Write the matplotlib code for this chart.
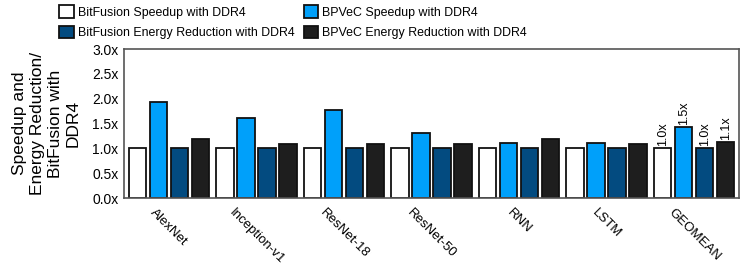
import numpy as np
import matplotlib.pyplot as plt

plt.rcParams['font.family'] = ['Liberation Sans', 'DejaVu Sans']

# === data ===
workloads = ['AlexNet', 'Inception-v1', 'ResNet-18', 'ResNet-50', 'RNN', 'LSTM', 'GEOMEAN']
bitfusion_speedup = [1.0, 1.0, 1.0, 1.0, 1.0, 1.0, 1.0]
bpvec_speedup = [1.94, 1.61, 1.77, 1.31, 1.11, 1.11, 1.44]
bitfusion_energy = [1.0, 1.0, 1.0, 1.0, 1.0, 1.0, 1.0]
bpvec_energy = [1.19, 1.09, 1.09, 1.09, 1.19, 1.09, 1.13]
geomean_labels = ['1.0x', '1.5x', '1.0x', '1.1x']

series = [
    (bitfusion_speedup, 'BitFusion Speedup with DDR4', '#ffffff'),
    (bitfusion_energy, 'BitFusion Energy Reduction with DDR4', '#034b80'),
    (bpvec_speedup, 'BPVeC Speedup with DDR4', '#00a0fa'),
    (bpvec_energy, 'BPVeC Energy Reduction with DDR4', '#1e1e1e'),
]
# drawing order within a group: white, light blue, dark blue, black
order = [0, 2, 1, 3]

fig = plt.figure(figsize=(7.47, 2.68), dpi=100)
ax = fig.add_axes([0.166, 0.261, 0.823, 0.556])

x = np.arange(len(workloads))
pitch = 0.24
width = 0.2
handles = {}
for pos, idx in enumerate(order):
    vals, label, color = series[idx]
    off = (pos - 1.5) * pitch
    b = ax.bar(x + off, vals, width, color=color, edgecolor='#111111', linewidth=1.3, label=label)
    handles[idx] = b
    # value labels on GEOMEAN
    ax.text(x[-1] + off, vals[-1] + 0.04, geomean_labels[pos], rotation=90,
            ha='center', va='bottom', fontsize=9)

ax.set_xlim(-0.515, 6.51)
ax.set_ylim(0, 3.0)
ax.set_yticks(np.arange(0, 3.01, 0.5))
ax.set_yticklabels(['%.1fx' % v for v in np.arange(0, 3.01, 0.5)], fontsize=10)
ax.set_xticks(x)
ax.set_xticklabels(workloads, rotation=-45, ha='center', va='top', fontsize=9.5)
ax.tick_params(axis='both', length=0, pad=4)
ax.tick_params(axis='x', pad=6)
for sp in ax.spines.values():
    sp.set_color('#555555')
    sp.set_linewidth(1.2)

ax.set_ylabel('Speedup and\nEnergy Reduction/\nBitFusion with\nDDR4', fontsize=12.5,
              linespacing=1.25, labelpad=8)

fig.legend([handles[i] for i in range(4)], [series[i][1] for i in range(4)],
           ncol=2, loc='upper left', bbox_to_anchor=(0.068, 1.012), frameon=False,
           fontsize=8.9, handlelength=1.15, handleheight=1.15,
           handletextpad=0.35, columnspacing=0.75, labelspacing=0.55, borderpad=0.2)

plt.savefig('out.png', dpi=100)
